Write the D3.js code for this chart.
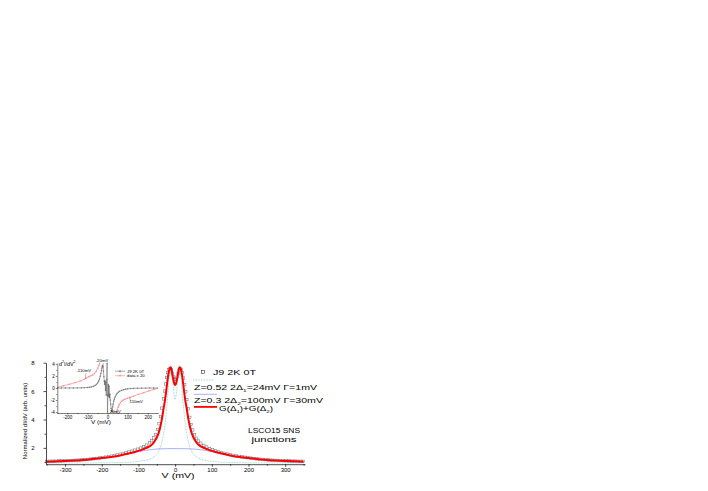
<!DOCTYPE html>
<html>
<head>
<meta charset="UTF-8" />
<title>LSCO15 SNS junctions, dI/dV</title>
<script src="https://cdn.jsdelivr.net/npm/d3@7"></script>
<style>
  body { margin: 0; background: #fff; }
  svg { display: block; font-family: 'Liberation Sans', Arial, sans-serif; }
  .ax path, .ax line { stroke: #000; stroke-width: 0.7; }
  .ax text { fill: #000; font-family: 'Liberation Sans', Arial, sans-serif; }
</style>
</head>
<body>
<svg id="chart" width="708" height="491"></svg>
<script>
// ---- main panel: normalized dI/dV vs V (mV) ----
// measured points, J9 2K 0T (open squares)
const j9Points = [
  [-350,1.05],[-342,1.06],[-334,1.06],[-326,1.07],[-318,1.08],[-310,1.08],[-302,1.09],[-294,1.10],
  [-286,1.11],[-278,1.12],[-270,1.13],[-262,1.14],[-254,1.16],[-246,1.17],[-238,1.19],[-230,1.21],
  [-222,1.23],[-214,1.26],[-206,1.29],[-198,1.32],[-190,1.35],[-182,1.38],[-174,1.42],[-166,1.46],
  [-158,1.50],[-150,1.55],[-142,1.60],[-134,1.65],[-126,1.71],[-118,1.77],[-110,1.84],[-102,1.91],
  [-94,1.99],[-86,2.08],[-78,2.20],[-70,2.35],[-64,2.50],[-58,2.70],[-53,2.95],[-48,3.30],
  [-44,3.70],[-40,4.20],[-36,4.80],[-32,5.45],[-29,6.00],[-26,6.50],[-23,6.95],[-20,7.30],
  [-17,7.52],[-14,7.60],[-11,7.50],[-8,7.25],[-5,7.00],[-2,6.85],
  [2,6.82],[5,6.98],[8,7.22],[11,7.48],[14,7.58],[17,7.50],[20,7.28],[23,6.92],
  [26,6.45],[29,5.95],[32,5.40],[36,4.75],[40,4.15],[44,3.65],[48,3.26],[53,2.92],
  [58,2.68],[64,2.48],[70,2.33],[78,2.18],[86,2.06],[94,1.96],[102,1.88],[110,1.81],
  [118,1.74],[126,1.68],[134,1.62],[142,1.57],[150,1.52],[158,1.48],[166,1.44],[174,1.40],
  [182,1.37],[190,1.34],[198,1.31],[206,1.28],[214,1.25],[222,1.23],[230,1.21],[238,1.19],
  [246,1.17],[254,1.15],[262,1.14],[270,1.13],[278,1.12],[286,1.11],[294,1.10],[302,1.09],
  [310,1.08],[318,1.07],[326,1.07],[334,1.06],[342,1.06],[350,1.05]
];
// Z=0.52, 2Δ1=24mV, Γ=1mV (dotted)
const gap1Curve = [
  [-350,0.94],[-250,0.94],[-200,0.95],[-150,0.97],[-120,1.00],[-100,1.05],[-85,1.10],[-72,1.18],
  [-62,1.30],[-54,1.45],[-47,1.65],[-41,2.00],[-36,2.45],[-32,2.95],[-28,3.60],[-25,4.30],
  [-22,5.10],[-19,6.00],[-16,6.95],[-13,7.65],[-11,7.80],[-9,7.45],[-7,6.90],[-5,6.30],
  [-3,5.80],[-1,5.45],[0,5.37],[1,5.45],[3,5.80],[5,6.30],[7,6.90],[9,7.45],[11,7.80],
  [13,7.65],[16,6.95],[19,6.00],[22,5.10],[25,4.30],[28,3.60],[32,2.95],[36,2.45],[41,2.00],
  [47,1.65],[54,1.45],[62,1.30],[72,1.18],[85,1.10],[100,1.05],[120,1.00],[150,0.97],
  [200,0.95],[250,0.94],[350,0.94]
];
// Z=0.3, 2Δ2=100mV, Γ=30mV (thin blue)
const gap2Curve = [
  [-350,1.05],[-300,1.10],[-250,1.17],[-200,1.28],[-160,1.42],[-130,1.56],[-110,1.67],[-90,1.78],
  [-70,1.87],[-50,1.92],[-30,1.94],[0,1.95],[30,1.94],[50,1.92],[70,1.87],[90,1.78],
  [110,1.67],[130,1.56],[160,1.42],[200,1.28],[250,1.17],[300,1.10],[350,1.05]
];
// G(Δ1)+G(Δ2) (thick red)
const sumCurve = [
  [-350,1.03],[-300,1.08],[-250,1.14],[-200,1.28],[-170,1.38],[-150,1.47],[-130,1.58],[-110,1.71],
  [-100,1.79],[-90,1.88],[-80,1.98],[-70,2.10],[-62,2.26],[-55,2.50],[-50,2.73],[-45,3.05],
  [-41,3.42],[-37,3.90],[-34,4.35],[-31,4.85],[-28,5.30],[-25,5.85],[-22,6.50],[-19,7.10],
  [-16,7.48],[-13,7.68],[-10,7.55],[-7,7.10],[-4,6.70],[-2,6.50],[0,6.43],[2,6.50],[4,6.70],
  [7,7.10],[10,7.55],[13,7.68],[16,7.48],[19,7.10],[22,6.50],[25,5.85],[28,5.30],[31,4.85],
  [34,4.35],[37,3.90],[41,3.42],[45,3.05],[50,2.73],[55,2.50],[62,2.26],[70,2.10],[80,1.98],
  [90,1.88],[100,1.79],[110,1.71],[130,1.58],[150,1.47],[170,1.38],[200,1.28],[250,1.14],
  [300,1.08],[350,1.03]
];
const mainXTicks = [-300, -200, -100, 0, 100, 200, 300];
const mainXMinor = [-350, -250, -150, -50, 50, 150, 250, 350];
const mainYTicks = [2, 4, 6, 8];
const mainYMinor = [1, 3, 5, 7];

// ---- inset: d2I/dV2 vs V (mV) ----
const insetJ9 = [
  [-250,0],[-230,0],[-210,0],[-190,0.01],[-170,0.01],[-150,0.02],[-130,0.03],[-115,0.05],
  [-100,0.08],[-90,0.12],[-80,0.18],[-70,0.28],[-62,0.42],[-55,0.6],[-49,0.85],[-44,1.15],
  [-40,1.5],[-36,1.95],[-33,2.4],[-30,2.9],[-28,3.3],[-26,3.6],[-24,3.75],[-22,3.5],
  [-20,2.8],[-18,1.9],[-16,1.1],[-14,0.6],[-12,1.2],[-10,-0.4],[-8,1.0],[-6,-1.2],
  [-4,1.4],[-2,4.1],[0,-4.0],[2,-1.2],[4,0.6],[6,-1.4],[8,0.3],[10,-1.6],[12,-1.0],
  [14,-2.0],[16,-2.7],[18,-3.4],[20,-3.85],[22,-3.9],[24,-3.6],[26,-3.1],[28,-2.7],
  [31,-2.2],[34,-1.85],[38,-1.5],[43,-1.15],[48,-0.9],[54,-0.7],[60,-0.55],[70,-0.4],
  [80,-0.28],[90,-0.2],[100,-0.14],[115,-0.09],[130,-0.06],[150,-0.04],[170,-0.03],
  [190,-0.02],[210,-0.01],[230,-0.01],[250,0]
];
const insetX20Left = [
  [-250,0.1],[-220,0.35],[-190,0.62],[-160,0.9],[-135,1.18],[-115,1.45],[-105,1.65],[-95,1.85],
  [-85,2.0],[-75,2.15],[-65,2.4],[-56,2.8],[-48,3.3],[-42,3.8],[-38,4.15]
];
const insetX20Right = [
  [44,-4.15],[48,-3.7],[53,-3.2],[58,-2.8],[64,-2.45],[70,-2.2],[78,-2.0],[88,-1.85],
  [100,-1.7],[112,-1.55],[130,-1.35],[155,-1.05],[180,-0.78],[205,-0.5],[230,-0.25],[250,-0.05]
];
const insetXTicks = [-200, -100, 0, 100, 200];
const insetXMinor = [-250, -150, -50, 50, 150, 250];
const insetYTicks = [-4, -2, 0, 2, 4];
const insetYMinor = [-3, -1, 1, 3];
// annotated features: label, V, d2I/dV2 value of the pointed spot
const insetNotes = [
  { label: '-110mV', v: -110, u: 1.55 },
  { label: '-20mV', v: -24, u: 3.75 },
  { label: '110mV', v: 110, u: -1.57 },
  { label: '20mV', v: 21, u: -3.9 }
];

const svg = d3.select('#chart');
svg.append('rect').attr('width', 708).attr('height', 491).attr('fill', '#fff');

// rich text: parts are strings or [string, 'sub'|'sup']
function richText(g, x, y, parts, size, opts) {
  opts = opts || {};
  const t = g.append('text')
    .attr('x', x).attr('y', y)
    .attr('font-size', size)
    .attr('fill', '#000')
    .attr('text-anchor', opts.anchor || 'start');
  let shift = 0;
  parts.forEach(p => {
    const s = Array.isArray(p) ? p[0] : p;
    const kind = Array.isArray(p) ? p[1] : null;
    const target = kind === 'sub' ? size * 0.25 : kind === 'sup' ? -size * 0.4 : 0;
    const ts = t.append('tspan').text(s).attr('dy', target - shift);
    if (kind) ts.attr('font-size', size * 0.62);
    shift = target;
  });
  if (opts.len) t.attr('textLength', opts.len).attr('lengthAdjust', 'spacingAndGlyphs');
  return t;
}

// ---------- main panel ----------
const x = d3.scaleLinear().domain([-352, 354]).range([46, 305]);
const y = d3.scaleLinear().domain([0.85, 8]).range([464.2, 362.7]);

const line = d3.line().x(d => x(d[0])).y(d => y(d[1])).curve(d3.curveMonotoneX);

const main = svg.append('g');

main.append('g').selectAll('rect').data(j9Points).join('rect')
  .attr('x', d => x(d[0]) - 1.2).attr('y', d => y(d[1]) - 1.2)
  .attr('width', 2.4).attr('height', 2.4)
  .attr('fill', 'none').attr('stroke', '#6a6a6a').attr('stroke-width', 0.5);

main.append('path').datum(gap1Curve).attr('d', line)
  .attr('fill', 'none').attr('stroke', '#7cc8c8').attr('stroke-width', 0.8)
  .attr('stroke-dasharray', '0.8 0.8');
main.append('path').datum(gap2Curve).attr('d', line)
  .attr('fill', 'none').attr('stroke', '#8a8cf0').attr('stroke-width', 0.7);
main.append('path').datum(sumCurve).attr('d', line)
  .attr('fill', 'none').attr('stroke', '#ff0000').attr('stroke-width', 2);

const xAxis = main.append('g').attr('class', 'ax').attr('transform', `translate(0,${y.range()[0]})`);
xAxis.call(d3.axisBottom(x).tickValues(mainXTicks).tickSize(2.5).tickSizeOuter(0)
  .tickPadding(1.5).tickFormat(d => String(d)));
xAxis.selectAll('text').attr('font-size', 6);
main.append('g').attr('class', 'ax').attr('transform', `translate(0,${y.range()[0]})`)
  .call(d3.axisBottom(x).tickValues(mainXMinor).tickSize(1.5).tickFormat(''))
  .select('.domain').remove();

const yAxis = main.append('g').attr('class', 'ax').attr('transform', `translate(${x.range()[0]},0)`);
yAxis.call(d3.axisLeft(y).tickValues(mainYTicks).tickSize(2.5).tickSizeOuter(0)
  .tickPadding(9).tickFormat(d => String(d)));
yAxis.selectAll('text').attr('font-size', 6);
main.append('g').attr('class', 'ax').attr('transform', `translate(${x.range()[0]},0)`)
  .call(d3.axisLeft(y).tickValues(mainYMinor).tickSize(1.5).tickFormat(''))
  .select('.domain').remove();

richText(main, x(0) + 3, 478, ['V (mV)'], 7, { anchor: 'middle', len: 33 });
main.append('text')
  .attr('transform', 'translate(27,421) rotate(-90)')
  .attr('text-anchor', 'middle').attr('font-size', 6).attr('fill', '#000')
  .text('Normalized dI/dV (arb. units)');

// legend
const leg = main.append('g');
leg.append('rect').attr('x', 201.5).attr('y', 370.5).attr('width', 3).attr('height', 3)
  .attr('fill', 'none').attr('stroke', '#333').attr('stroke-width', 0.6);
richText(leg, 213, 374.5, ['J9  2K  0T'], 7, { len: 43 });
leg.append('line').attr('x1', 193).attr('x2', 214).attr('y1', 380).attr('y2', 380)
  .attr('stroke', '#7cc8c8').attr('stroke-width', 0.8).attr('stroke-dasharray', '0.8 0.8');
richText(leg, 194, 390, ['Z=0.52  2Δ', ['1', 'sub'], '=24mV  Γ=1mV'], 7, { len: 123 });
leg.append('line').attr('x1', 194).attr('x2', 217).attr('y1', 394.3).attr('y2', 394.3)
  .attr('stroke', '#8a8cf0').attr('stroke-width', 0.7);
richText(leg, 194, 403.3, ['Z=0.3  2Δ', ['2', 'sub'], '=100mV  Γ=30mV'], 7, { len: 129 });
leg.append('line').attr('x1', 194).attr('x2', 217).attr('y1', 406.9).attr('y2', 406.9)
  .attr('stroke', '#ff0000').attr('stroke-width', 1.8);
richText(leg, 219, 410.8, ['G(Δ', ['1', 'sub'], ')+G(Δ', ['2', 'sub'], ')'], 7, { len: 54 });

richText(main, 274, 433, ['LSCO15 SNS'], 7, { anchor: 'middle', len: 52 });
richText(main, 274, 441.5, ['junctions'], 7, { anchor: 'middle', len: 45 });

// ---------- inset ----------
const xi = d3.scaleLinear().domain([-250, 250]).range([57.3, 157.7]);
const yi = d3.scaleLinear().domain([-4.15, 4.15]).range([413, 363]);
const linei = d3.line().x(d => xi(d[0])).y(d => yi(d[1]));

const inset = svg.append('g');
inset.append('rect').attr('x', 57.3).attr('y', 362).attr('width', 100.4).attr('height', 51)
  .attr('fill', '#fff');
inset.append('clipPath').attr('id', 'inclip').append('rect')
  .attr('x', 57.3).attr('y', 362.5).attr('width', 100.4).attr('height', 50.5);
const plotI = inset.append('g').attr('clip-path', 'url(#inclip)');

function crosses(g, pts, color, r) {
  g.append('g').selectAll('path').data(pts).join('path')
    .attr('d', d => `M${xi(d[0]) - r},${yi(d[1])}h${2 * r}M${xi(d[0])},${yi(d[1]) - r}v${2 * r}`)
    .attr('stroke', color).attr('stroke-width', 0.4);
}

[insetX20Left, insetX20Right].forEach(seg => {
  plotI.append('path').datum(seg).attr('d', linei)
    .attr('fill', 'none').attr('stroke', '#ff7070').attr('stroke-width', 0.6);
  crosses(plotI, seg, '#ff7070', 0.8);
});
plotI.append('path').datum(insetJ9).attr('d', linei)
  .attr('fill', 'none').attr('stroke', '#555').attr('stroke-width', 0.5);
crosses(plotI, insetJ9, '#555', 0.8);

const xiAxis = inset.append('g').attr('class', 'ax').attr('transform', `translate(0,${yi.range()[0]})`);
xiAxis.call(d3.axisBottom(xi).tickValues(insetXTicks).tickSize(1.5).tickSizeOuter(0)
  .tickPadding(1).tickFormat(d => String(d)));
xiAxis.selectAll('text').attr('font-size', 4.5);
xiAxis.selectAll('path, line').style('stroke-width', 0.5);
inset.append('g').attr('class', 'ax').attr('transform', `translate(0,${yi.range()[0]})`)
  .call(d3.axisBottom(xi).tickValues(insetXMinor).tickSize(1).tickFormat(''))
  .call(g => g.select('.domain').remove())
  .selectAll('line').style('stroke-width', 0.5);

const yiAxis = inset.append('g').attr('class', 'ax').attr('transform', `translate(${xi.range()[0]},0)`);
yiAxis.call(d3.axisLeft(yi).tickValues(insetYTicks).tickSize(1.5).tickSizeOuter(0)
  .tickPadding(1).tickFormat(d => String(d)));
yiAxis.selectAll('text').attr('font-size', 4.5);
yiAxis.selectAll('path, line').style('stroke-width', 0.5);
inset.append('g').attr('class', 'ax').attr('transform', `translate(${xi.range()[0]},0)`)
  .call(d3.axisLeft(yi).tickValues(insetYMinor).tickSize(1).tickFormat(''))
  .call(g => g.select('.domain').remove())
  .selectAll('line').style('stroke-width', 0.5);

richText(inset, 59, 365.5, ['d', ['2', 'sup'], 'I/dV', ['2', 'sup']], 5.5, { len: 16.5 });
richText(inset, 101, 423.5, ['V (mV)'], 5.5, { anchor: 'middle', len: 20 });

// inset legend
const ileg = inset.append('g');
[['J9  2K  0T', '#555', 372.5], ['data x 20', '#ff7070', 377]].forEach(([lab, c, yy]) => {
  ileg.append('line').attr('x1', 115).attr('x2', 125).attr('y1', yy - 1.3).attr('y2', yy - 1.3)
    .attr('stroke', c).attr('stroke-width', 0.5);
  ileg.append('path').attr('d', `M119,${yy - 1.3}h2M120,${yy - 2.3}v2`)
    .attr('stroke', c).attr('stroke-width', 0.5);
  richText(ileg, 127, yy, [lab], 4.3);
});

// feature notes with leader lines
const noteOffsets = { '-110mV': [-9, -7], '-20mV': [-7, -3],
  '110mV': [0, 4.5], '20mV': [-2, 0.5] };
insetNotes.forEach(n => {
  const px = xi(n.v), py = yi(n.u);
  const [dx, dy] = noteOffsets[n.label];
  inset.append('line').attr('x1', px).attr('y1', py)
    .attr('x2', px + dx * 0.4 + (dx < 0 ? 4 : 1)).attr('y2', py + dy * 0.75)
    .attr('stroke', '#333').attr('stroke-width', 0.35);
  richText(inset, px + dx, py + dy + (dy > 0 ? 1.5 : 0), [n.label], 4.3);
});
</script>
</body>
</html>
